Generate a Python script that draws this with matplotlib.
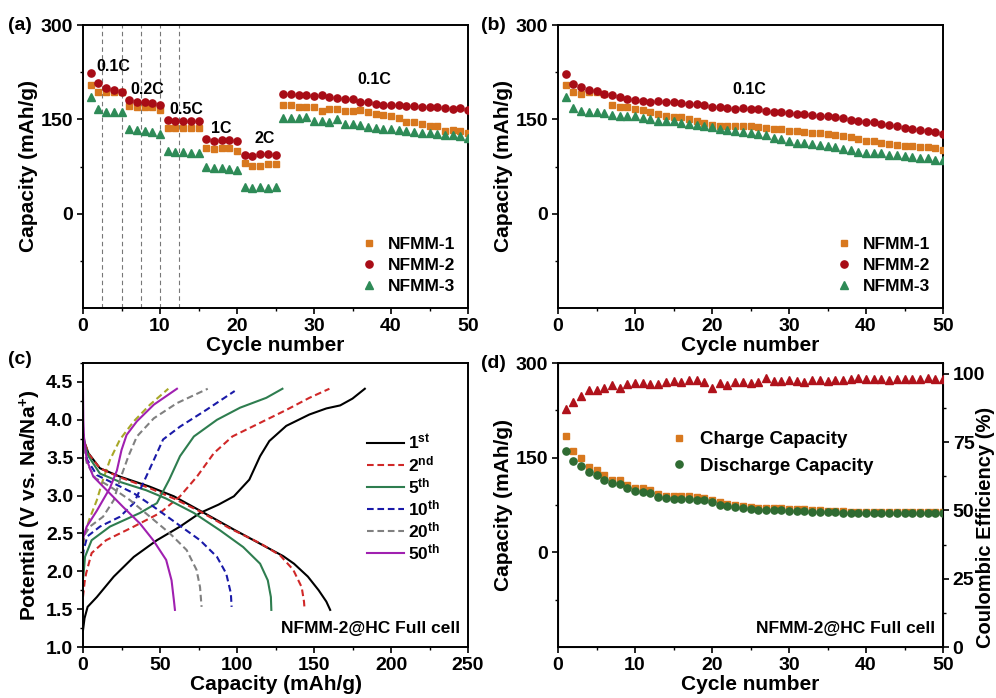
import numpy as np
import matplotlib
matplotlib.use('Agg')
import matplotlib.pyplot as plt
from matplotlib.ticker import MultipleLocator, FormatStrFormatter

plt.rcParams['font.family'] = ['Liberation Sans', 'DejaVu Sans']
plt.rcParams['font.weight'] = 'bold'
plt.rcParams['axes.labelweight'] = 'bold'
plt.rcParams['mathtext.fontset'] = 'custom'
plt.rcParams['mathtext.rm'] = 'Liberation Sans:bold'
plt.rcParams['mathtext.bf'] = 'Liberation Sans:bold'
plt.rcParams['mathtext.default'] = 'bf'

# ---------------- data ----------------
cycles = list(range(1, 51))
series_names = ['NFMM-1', 'NFMM-2', 'NFMM-3']

# (a) rate capability
rate_nfmm1 = [205, 194, 193, 193, 193, 171, 170, 170, 169, 165,
              137, 136, 136, 136, 137, 104, 103, 104, 104, 99,
              80, 76, 76, 79, 79, 172, 172, 170, 170, 169,
              164, 167, 167, 163, 163, 165, 161, 159, 157, 155,
              152, 145, 145, 143, 140, 139, 132, 133, 132, 128]
rate_nfmm2 = [223, 207, 200, 197, 194, 181, 178, 177, 176, 173,
              149, 148, 147, 147, 147, 119, 116, 117, 117, 115,
              94, 92, 95, 95, 93, 190, 190, 189, 189, 187,
              188, 186, 184, 183, 182, 178, 177, 175, 173, 173,
              172, 171, 171, 170, 170, 169, 168, 167, 168, 165]
rate_nfmm3 = [185, 167, 162, 162, 162, 135, 133, 131, 130, 127,
              99, 98, 98, 97, 97, 75, 73, 73, 71, 70,
              43, 41, 42, 41, 43, 152, 152, 152, 153, 147,
              147, 145, 151, 143, 142, 141, 138, 137, 135, 134,
              133, 131, 130, 129, 128, 127, 125, 125, 123, 121]
rate_dividers = [2.5, 5, 7.5, 10, 12.5]
rate_labels = ['0.1C', '0.2C', '0.5C', '1C', '2C', '0.1C']
rate_label_x = [3.9, 8.3, 13.4, 18.0, 23.6, 37.8]
rate_label_y = [234, 197, 166, 136, 120, 213]

# (b) cycling at 0.1C
cyc_nfmm1 = [204, 193, 190, 193, 194, 191, 172, 170, 169, 167,
             165, 161, 159, 155, 153, 153, 150, 147, 144, 141,
             140, 140, 140, 139, 139, 138, 136, 135, 134, 132,
             131, 130, 129, 128, 127, 125, 123, 122, 118, 116,
             115, 112, 110, 109, 107, 107, 106, 106, 104, 102]
cyc_nfmm2 = [222, 206, 201, 197, 195, 191, 188, 185, 183, 181,
             179, 177, 179, 177, 177, 176, 175, 175, 173, 170,
             169, 168, 167, 168, 167, 166, 164, 161, 161, 160,
             159, 159, 157, 156, 155, 153, 152, 149, 148, 146,
             145, 142, 141, 139, 137, 135, 133, 131, 130, 127]
cyc_nfmm3 = [185, 168, 164, 162, 162, 160, 157, 156, 156, 155,
             152, 150, 148, 148, 147, 144, 143, 141, 140, 138,
             134, 133, 131, 130, 128, 127, 125, 120, 119, 115,
             113, 112, 111, 109, 108, 106, 103, 102, 98, 97,
             97, 96, 93, 93, 92, 90, 89, 88, 86, 85]

# (c) charge/discharge profiles of the full cell
c1_chg_q = [0, 1, 3, 9, 20, 33, 48, 63, 76, 88, 98, 108, 115, 121, 132, 147, 158, 167, 175, 183]
c1_chg_v = [1.22, 1.38, 1.53, 1.66, 1.93, 2.19, 2.41, 2.59, 2.77, 2.88, 2.99, 3.21, 3.52, 3.72, 3.92, 4.07, 4.15, 4.19, 4.28, 4.41]
c1_dis_q = [0, 1, 3.5, 11, 24, 43, 59, 76, 98, 119, 130, 137, 146, 153, 158, 160.5]
c1_dis_v = [3.82, 3.70, 3.56, 3.36, 3.25, 3.12, 2.99, 2.80, 2.55, 2.32, 2.20, 2.10, 1.93, 1.75, 1.60, 1.49]
c2_chg_q = [0, 1, 2, 5.6, 15, 33, 50, 63, 74, 85, 97, 115, 132, 147, 160]
c2_chg_v = [1.66, 1.85, 1.97, 2.24, 2.41, 2.59, 2.77, 2.99, 3.25, 3.56, 3.78, 3.96, 4.13, 4.29, 4.41]
c2_dis_q = [0, 1, 4, 11, 24, 43, 59, 76, 95, 115, 128, 136.5, 142, 143.5, 143.8]
c2_dis_v = [3.82, 3.70, 3.54, 3.36, 3.24, 3.10, 2.96, 2.79, 2.57, 2.37, 2.21, 2.02, 1.79, 1.60, 1.52]
c5_chg_q = [0, 0.4, 1.3, 5.6, 17.5, 37, 48, 56, 63, 72, 87, 102, 119, 129.5]
c5_chg_v = [1.90, 1.97, 2.19, 2.41, 2.59, 2.77, 2.90, 3.21, 3.52, 3.78, 4.00, 4.16, 4.29, 4.41]
c5_dis_q = [0, 1, 3.5, 11, 24, 41, 54, 72, 89, 104, 115, 120, 122, 122.3]
c5_dis_v = [3.80, 3.68, 3.52, 3.29, 3.18, 3.07, 2.96, 2.77, 2.54, 2.32, 2.10, 1.88, 1.66, 1.49]
c10_chg_q = [0, 0.4, 2.8, 11, 24, 33, 39, 46, 52, 63, 80, 98.5]
c10_chg_v = [2.20, 2.28, 2.46, 2.59, 2.72, 2.90, 3.16, 3.47, 3.74, 3.91, 4.13, 4.38]
c10_dis_q = [0, 1, 2.8, 9, 20, 33, 46, 61, 76, 87, 93, 96, 96.5]
c10_dis_v = [3.78, 3.62, 3.47, 3.27, 3.16, 3.03, 2.85, 2.63, 2.41, 2.19, 1.97, 1.71, 1.53]
c20_chg_q = [0, 0.4, 4.5, 13, 20, 24, 29.5, 35, 46, 61, 81]
c20_chg_v = [2.35, 2.46, 2.59, 2.72, 2.94, 3.21, 3.52, 3.78, 4.02, 4.22, 4.41]
c20_dis_q = [0, 1, 2.4, 8, 17.5, 30.5, 43.5, 56.4, 67.3, 73.7, 76, 77]
c20_dis_v = [3.78, 3.60, 3.43, 3.23, 3.12, 2.94, 2.72, 2.50, 2.28, 2.02, 1.79, 1.53]
c50_chg_q = [0, 0.4, 2.4, 9, 17.5, 22, 25, 28.3, 35, 46, 61]
c50_chg_v = [2.40, 2.46, 2.59, 2.80, 3.10, 3.33, 3.60, 3.80, 3.98, 4.20, 4.41]
c50_dis_q = [0, 0.2, 0.6, 2.4, 6.7, 15.4, 26, 37, 45.6, 54, 57.5, 59, 59.7]
c50_dis_v = [4.40, 4.00, 3.78, 3.47, 3.25, 3.07, 2.85, 2.63, 2.41, 2.15, 1.88, 1.62, 1.49]
extra_chg_q = [0, 1.3, 4, 9, 13, 17.5, 24, 33, 43.5, 55.4]
extra_chg_v = [2.35, 2.50, 2.68, 2.94, 3.21, 3.47, 3.74, 3.98, 4.20, 4.41]
curve_labels = ['1$^{st}$', '2$^{nd}$', '5$^{th}$', '10$^{th}$', '20$^{th}$', '50$^{th}$']

# (d) full-cell cycling
fc_charge = [185, 161, 149.5, 136, 131, 122.5, 115, 115, 106.7, 102.5,
             101.4, 99.3, 92.4, 88.7, 88.7, 88.7, 88.5, 87, 86.6, 83.5,
             79, 77, 75, 73, 72, 71, 70, 70, 69.7, 68.7,
             68.7, 68.7, 67, 66.6, 65.5, 65.5, 65.5, 64.4, 64.4, 64,
             64, 64, 64, 64, 63.5, 63.5, 63.5, 63.5, 63.5, 63.5]
fc_discharge = [161, 145, 137, 128, 122.5, 115, 110, 108, 102.5, 97.7,
                96, 94, 87, 85.6, 84.5, 84.5, 84.5, 83.5, 82.4, 79,
                75, 73, 71.3, 69.7, 68.7, 67.6, 67.6, 67, 66.6, 66,
                65.5, 65.5, 64.4, 64.4, 63.4, 63.4, 63, 63, 62.8, 62.8,
                62.5, 62.5, 62.5, 62.5, 62.5, 62.5, 62.3, 62.3, 62.3, 62.3]
fc_ce = [87.1, 89.8, 91.8, 94.2, 94.2, 95.0, 96.0, 95.0, 96.2, 96.6,
         96.6, 96.2, 96.2, 97.2, 97.5, 97.2, 97.9, 97.9, 96.9, 95.0,
         96.6, 96.0, 96.9, 96.9, 96.7, 97.2, 98.4, 97.5, 97.5, 97.9,
         97.5, 96.9, 97.8, 97.9, 97.5, 97.9, 97.9, 98.2, 98.6, 98.2,
         98.2, 98.2, 97.8, 98.2, 98.2, 98.2, 98.2, 98.6, 98.2, 98.2]

# ---------------- styles ----------------
C_ORANGE = '#D8781E'
C_RED = '#A80C16'
C_GREEN = '#2E8B57'
C_TRI = '#B0121B'
C_DGREEN = '#2F6B32'
TICK_FS = 14
LAB_FS = 15
MS_SQ, MS_CI, MS_TR = 4.6, 5.2, 5.6

fig = plt.figure(figsize=(9.96, 6.98), dpi=100)
W, H = 996.0, 698.0


def add_ax(l, t, r, b):
    return fig.add_axes([l / W, 1 - b / H, (r - l) / W, (b - t) / H])


def style(ax):
    ax.tick_params(which='major', direction='out', length=4, width=1.2,
                   labelsize=TICK_FS, top=False, right=False, pad=3)
    ax.tick_params(which='minor', direction='out', length=2.5, width=1.0,
                   top=False, right=False)
    for s in ax.spines.values():
        s.set_linewidth(1.4)
    for lab in ax.get_xticklabels() + ax.get_yticklabels():
        lab.set_fontweight('bold')


def cap_axes(ax):
    ax.set_xlim(0, 50)
    ax.set_ylim(-150, 300)
    ax.set_xticks([0, 10, 20, 30, 40, 50])
    ax.xaxis.set_minor_locator(MultipleLocator(5))
    ax.set_yticks([0, 150, 300])
    ax.set_yticks([-75, 75, 225], minor=True)
    ax.set_xlabel('Cycle number', fontsize=LAB_FS, labelpad=1)
    ax.set_ylabel('Capacity (mAh/g)', fontsize=LAB_FS, labelpad=2)
    style(ax)


ax_a = add_ax(83, 25, 468, 308)
ax_b = add_ax(558, 25, 943, 308)
ax_c = add_ax(83, 363, 468, 647)
ax_d = add_ax(558, 363, 943, 647)

LEG_AB = dict(loc='upper left', bbox_to_anchor=(0.715, 0.25), frameon=False,
              fontsize=12.5, handletextpad=0.5, labelspacing=0.33, borderpad=0,
              borderaxespad=0, handlelength=1.2)

# (a)
for xv in rate_dividers:
    ax_a.axvline(xv, color='#777777', lw=0.8, ls=(0, (4, 3)), zorder=1)
ax_a.plot(cycles, rate_nfmm1, 's', color=C_ORANGE, ms=MS_SQ, label=series_names[0], zorder=3)
ax_a.plot(cycles, rate_nfmm2, 'o', color=C_RED, ms=MS_CI, label=series_names[1], zorder=4)
ax_a.plot(cycles, rate_nfmm3, '^', color=C_GREEN, ms=MS_TR, label=series_names[2], zorder=3)
for x, y, t in zip(rate_label_x, rate_label_y, rate_labels):
    ax_a.text(x, y, t, fontsize=11.5, ha='center', va='center', fontweight='bold')
cap_axes(ax_a)
ax_a.legend(**LEG_AB)

# (b)
ax_b.plot(cycles, cyc_nfmm1, 's', color=C_ORANGE, ms=MS_SQ, label=series_names[0], zorder=3)
ax_b.plot(cycles, cyc_nfmm2, 'o', color=C_RED, ms=MS_CI, label=series_names[1], zorder=4)
ax_b.plot(cycles, cyc_nfmm3, '^', color=C_GREEN, ms=MS_TR, label=series_names[2], zorder=3)
ax_b.text(24.8, 197, '0.1C', fontsize=11.5, ha='center', va='center', fontweight='bold')
cap_axes(ax_b)
ax_b.legend(**LEG_AB)

# (c)
DASH = (0, (3.2, 1.8))
curves = [
    (c1_chg_q, c1_chg_v, c1_dis_q, c1_dis_v, 'black', '-'),
    (c2_chg_q, c2_chg_v, c2_dis_q, c2_dis_v, '#D02828', DASH),
    (c5_chg_q, c5_chg_v, c5_dis_q, c5_dis_v, '#2E7D4F', '-'),
    (c10_chg_q, c10_chg_v, c10_dis_q, c10_dis_v, '#1A1AA8', DASH),
    (c20_chg_q, c20_chg_v, c20_dis_q, c20_dis_v, '#808080', DASH),
    (c50_chg_q, c50_chg_v, c50_dis_q, c50_dis_v, '#A020B0', '-'),
]
ax_c.plot(extra_chg_q, extra_chg_v, color='#A8A828', ls=DASH, lw=1.5)
for (cq, cv, dq, dv, col, ls), lab in zip(curves, curve_labels):
    ax_c.plot(cq, cv, color=col, ls=ls, lw=1.5, label=lab)
    ax_c.plot(dq, dv, color=col, ls=ls, lw=1.5)
ax_c.set_xlim(0, 250)
ax_c.set_ylim(1.0, 4.75)
ax_c.xaxis.set_major_locator(MultipleLocator(50))
ax_c.xaxis.set_minor_locator(MultipleLocator(25))
ax_c.set_yticks([1.0, 1.5, 2.0, 2.5, 3.0, 3.5, 4.0, 4.5])
ax_c.yaxis.set_minor_locator(MultipleLocator(0.25))
ax_c.yaxis.set_major_formatter(FormatStrFormatter('%.1f'))
ax_c.set_xlabel('Capacity (mAh/g)', fontsize=LAB_FS, labelpad=1)
ax_c.set_ylabel('Potential (V vs. Na/Na$^{+}$)', fontsize=LAB_FS, labelpad=2)
style(ax_c)
ax_c.legend(loc='upper left', bbox_to_anchor=(0.738, 0.755), frameon=False,
            fontsize=12.5, handletextpad=0.2, labelspacing=0.12, borderpad=0,
            borderaxespad=0, handlelength=2.15)
ax_c.text(0.98, 0.04, 'NFMM-2@HC Full cell', transform=ax_c.transAxes,
          fontsize=12.5, ha='right', va='bottom', fontweight='bold')

# (d)
ax_d.plot(cycles, fc_charge, 's', color=C_ORANGE, ms=MS_SQ, label='Charge Capacity', zorder=3)
ax_d.plot(cycles, fc_discharge, 'o', color=C_DGREEN, ms=MS_CI, label='Discharge Capacity', zorder=4)
cap_axes(ax_d)
ax_d.legend(loc='upper left', bbox_to_anchor=(0.285, 0.76), frameon=False,
            fontsize=13.5, handletextpad=0.5, labelspacing=0.5, borderpad=0,
            borderaxespad=0, handlelength=1.2)
ax_d.text(0.98, 0.04, 'NFMM-2@HC Full cell', transform=ax_d.transAxes,
          fontsize=12.5, ha='right', va='bottom', fontweight='bold')
ax_d2 = ax_d.twinx()
ax_d2.plot(cycles, fc_ce, '^', color=C_TRI, ms=MS_TR, zorder=3)
ax_d2.set_ylim(0, 104)
ax_d2.set_yticks([0, 25, 50, 75, 100])
ax_d2.set_yticks([12.5, 37.5, 62.5, 87.5], minor=True)
ax_d2.tick_params(which='major', direction='out', length=4, width=1.2,
                  labelsize=TICK_FS, right=True, left=False, pad=3)
ax_d2.tick_params(which='minor', direction='out', length=2.5, width=1.0,
                  right=True, left=False)
for lab in ax_d2.get_yticklabels():
    lab.set_fontweight('bold')
ax_d2.set_ylabel('Coulombic Efficiency (%)', fontsize=14.5, rotation=90,
                 va='center', ha='center')
ax_d2.yaxis.set_label_coords((985 - 558) / 385.0, (647 - 527) / 284.0)

# panel letters
for x, y, t in [(8, 25, '(a)'), (481, 25, '(b)'), (8, 360, '(c)'), (481, 363, '(d)')]:
    fig.text(x / W, 1 - y / H, t, fontsize=14, fontweight='bold', ha='left', va='center')

fig.savefig('out.png', dpi=100)
